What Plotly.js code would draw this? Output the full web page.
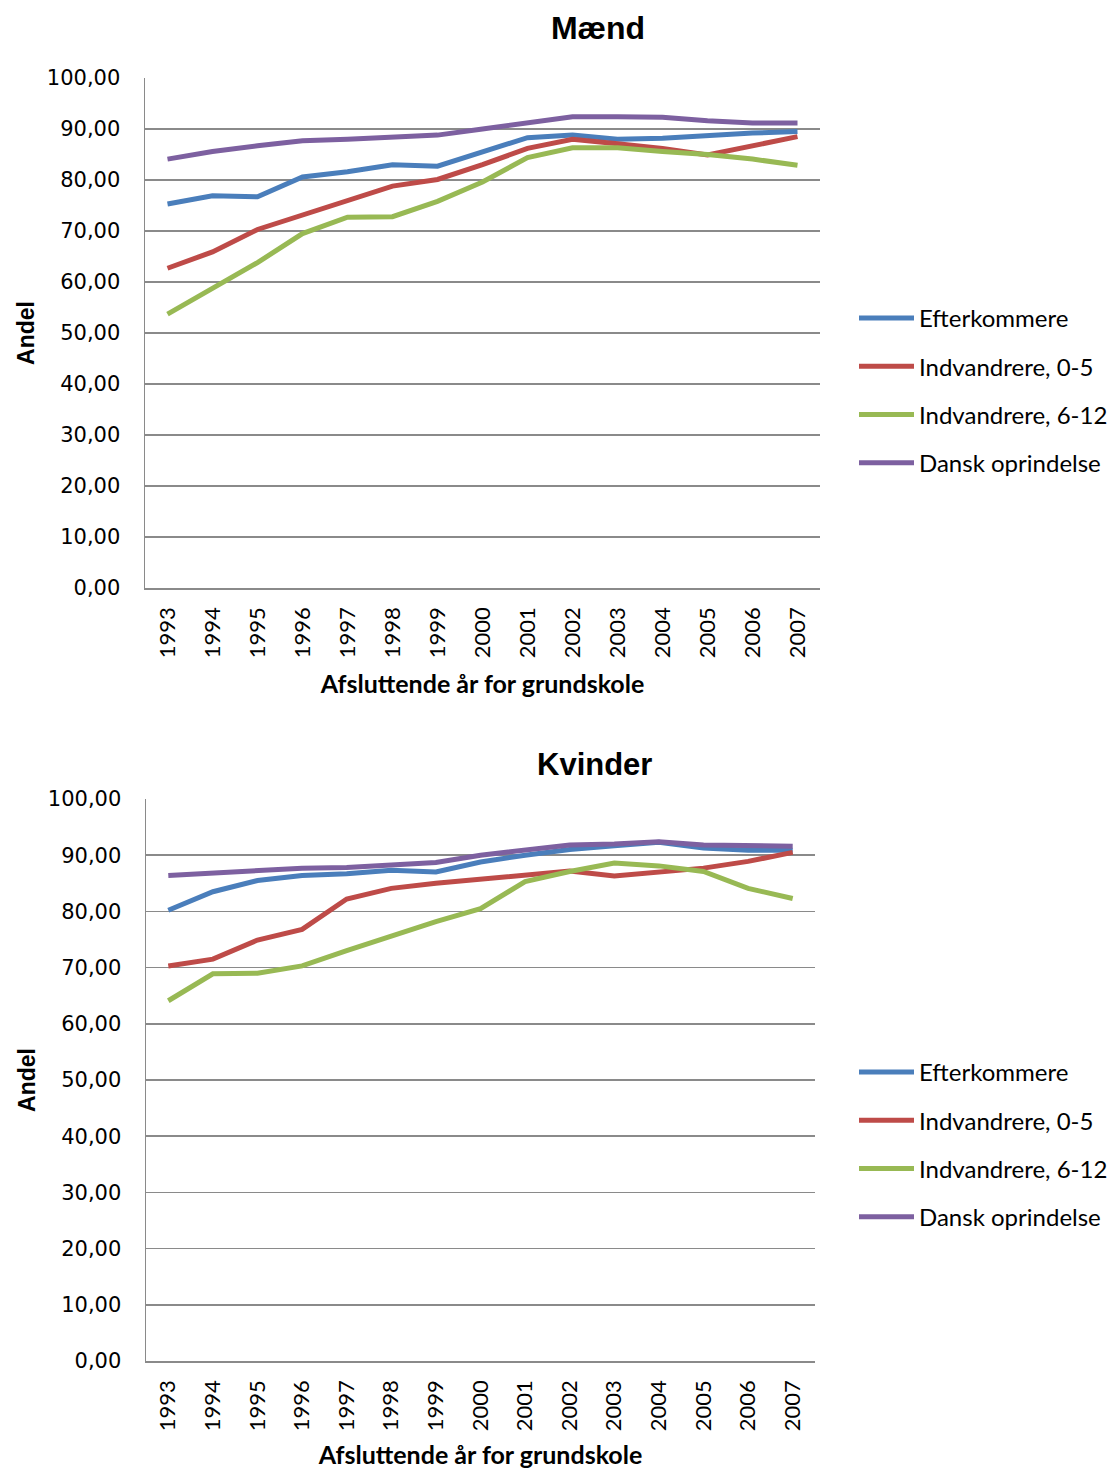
<!DOCTYPE html>
<html>
<head>
<meta charset="utf-8">
<script src="https://cdn.plot.ly/plotly-3.0.1.min.js"></script>
<style>html,body{margin:0;padding:0;background:#fff;}#chart{width:1116px;height:1469px;}</style>
</head>
<body>
<div id="chart"></div>
<script>
const years = ["1993","1994","1995","1996","1997","1998","1999","2000","2001","2002","2003","2004","2005","2006","2007"];
const seriesNames = ["Efterkommere","Indvandrere, 0-5","Indvandrere, 6-12","Dansk oprindelse"];
const seriesColors = ["#4A7EBB","#BE4B48","#98B954","#7D60A0"];

// Mænd
const maendEfterkommere = [75.3,76.9,76.7,80.6,81.6,83.0,82.7,85.6,88.3,88.8,88.0,88.2,88.8,89.2,89.5];
const maendIndv05      = [62.7,65.9,70.3,73.1,76.1,78.8,80.1,83.0,86.2,88.0,87.1,86.2,84.9,86.8,88.5];
const maendIndv612     = [53.7,58.8,63.8,69.5,72.7,72.8,75.8,79.6,84.4,86.3,86.3,85.6,85.0,84.1,82.9];
const maendDansk       = [84.1,85.6,86.7,87.7,88.0,88.5,88.8,90.0,91.3,92.4,92.4,92.3,91.6,91.2,91.2];

// Kvinder
const kvinderEfterkommere = [80.2,83.5,85.5,86.4,86.7,87.3,87.0,88.8,90.0,91.0,91.7,92.3,91.3,90.9,90.9];
const kvinderIndv05      = [70.3,71.5,74.9,76.8,82.2,84.1,85.0,85.8,86.6,87.2,86.3,87.0,87.7,88.9,90.5];
const kvinderIndv612     = [64.1,68.9,69.0,70.3,73.0,75.7,78.2,80.5,85.3,87.1,88.6,88.1,87.1,84.1,82.3];
const kvinderDansk       = [86.4,86.9,87.4,87.7,87.8,88.2,88.7,90.0,90.9,91.8,92.0,92.4,91.8,91.6,91.6];

const yTicks = [0,10,20,30,40,50,60,70,80,90,100];

const maend = [maendEfterkommere, maendIndv05, maendIndv612, maendDansk];
const kvinder = [kvinderEfterkommere, kvinderIndv05, kvinderIndv612, kvinderDansk];

const W = 1116, H = 1469;
const traces = [];
maend.forEach((vals, i) => traces.push({
  type: 'scatter', mode: 'lines', x: years, y: vals, name: seriesNames[i],
  xaxis: 'x', yaxis: 'y', legend: 'legend', legendgroup: 'm' + i,
  line: {color: seriesColors[i], width: 5}
}));
kvinder.forEach((vals, i) => traces.push({
  type: 'scatter', mode: 'lines', x: years, y: vals, name: seriesNames[i],
  xaxis: 'x2', yaxis: 'y2', legend: 'legend2', legendgroup: 'k' + i,
  line: {color: seriesColors[i], width: 5}
}));

const gridCol = '#8a8a8a';
function yax(domain, anchor) {
  return {
    domain: domain, anchor: anchor, range: [0, 100], tickvals: yTicks, tickformat: '.2f',
    showgrid: true, gridcolor: gridCol, gridwidth: 1.5, zeroline: false,
    showline: true, linecolor: gridCol, linewidth: 1.5, ticks: '',
    ticklabelstandoff: 19,
    tickfont: {family: 'DejaVu Sans', size: 21, color: '#000'},
    title: {text: 'Andel', font: {family: 'Liberation Sans', size: 23, color: '#000', weight: 'bold'}, standoff: 6},
    fixedrange: true
  };
}
function xax(domain, anchor) {
  return {
    domain: domain, anchor: anchor, type: 'category', range: [-0.5, 14.5],
    showgrid: false, zeroline: false, showline: true, linecolor: gridCol, linewidth: 1.5, ticks: '',
    tickangle: -90, ticklabelstandoff: 9,
    tickfont: {family: 'Lato', size: 22, color: '#000'},
    title: {text: 'Afsluttende år for grundskole', font: {family: 'Lato', size: 25, color: '#000', weight: 'bold'}, standoff: 18},
    fixedrange: true
  };
}

const legendCommon = {
  font: {family: 'Lato', size: 24, color: '#000'},
  itemwidth: 55, traceorder: 'grouped', tracegroupgap: 14,
  bgcolor: 'rgba(0,0,0,0)', borderwidth: 0, xanchor: 'left', yanchor: 'top'
};

const layout = {
  width: W, height: H,
  margin: {l: 0, r: 0, t: 0, b: 0},
  paper_bgcolor: '#fff', plot_bgcolor: '#fff',
  separators: ',.',
  showlegend: true,
  title: {text: 'Mænd', font: {family: 'Liberation Sans', size: 32, color: '#000', weight: 'bold'},
          x: 598 / W, xanchor: 'center', xref: 'paper', y: 1 - 28 / H, yanchor: 'middle', yref: 'paper'},
  xaxis: xax([145 / W, 820 / W], 'y'),
  yaxis: yax([1 - 588 / H, 1 - 78 / H], 'x'),
  xaxis2: xax([146 / W, 815 / W], 'y2'),
  yaxis2: yax([1 - 1361 / H, 1 - 799 / H], 'x2'),
  legend: Object.assign({}, legendCommon, {x: 854 / W, y: 1 - 296 / H}),
  legend2: Object.assign({}, legendCommon, {x: 854 / W, y: 1 - 1050 / H}),
  annotations: [{
    text: 'Kvinder', xref: 'paper', yref: 'paper', x: 594 / W, y: 1 - 765 / H,
    xanchor: 'center', yanchor: 'middle', showarrow: false,
    font: {family: 'Liberation Sans', size: 31, color: '#000', weight: 'bold'}
  }]
};

Plotly.newPlot('chart', traces, layout, {displayModeBar: false, staticPlot: true});
</script>
</body>
</html>
